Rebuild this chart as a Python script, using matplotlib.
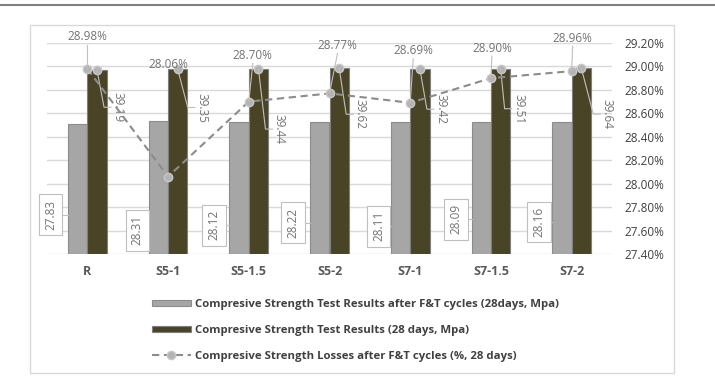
import numpy as np
import matplotlib.pyplot as plt
from matplotlib.patches import Rectangle, Patch
from matplotlib.lines import Line2D
from matplotlib.transforms import Affine2D, ScaledTranslation

plt.rcParams['font.family'] = ['Open Sans', 'DejaVu Sans']

# dados
categorias = ['R', 'S5-1', 'S5-1.5', 'S5-2', 'S7-1', 'S7-1.5', 'S7-2']
resist_apos_ft = [27.83, 28.31, 28.12, 28.22, 28.11, 28.09, 28.16]
resist_28d = [39.19, 39.35, 39.44, 39.62, 39.42, 39.51, 39.64]
perdas_pct = [28.98, 28.06, 28.70, 28.77, 28.69, 28.90, 28.96]
ticks_direita = [27.40, 27.60, 27.80, 28.00, 28.20, 28.40, 28.60, 28.80, 29.00, 29.20]

nomes_legenda = ['Compresive Strength Test Results after F&T cycles (28days, Mpa)',
                 'Compresive Strength Test Results (28 days, Mpa)',
                 'Compresive Strength Losses after F&T cycles (%, 28 days)']

# deslocamentos dos rotulos (pixels) - so estilo
desl_cinza = [(-27, -91), (-21, -109), (-25, -103), (-27, -101), (-22, -104), (-25, -97), (-23, -100)]
desl_escuro = [(21, -37), (24, -38), (21, -60), (21, -46), (21, -40), (18, -40), (26, -46)]
desl_pct = [(0, 32), (0, 112), (4, 46), (8, 48), (3, 52), (1, 30), (1, 33)]

cor_cinza = '#a6a6a6'
cor_escura = '#4a4427'
cor_rotulo = '#737373'

fig = plt.figure(figsize=(7.15, 3.81), dpi=100)
ax = fig.add_axes([47/715, 1 - 254/381, 565/715, 211/381])
ax2 = ax.twinx()

x = np.arange(len(categorias))
larg = 0.24

ax.set_xlim(-0.5, len(categorias) - 0.5)
ax.set_ylim(0, 45)
ax.set_yticks(np.arange(0, 46, 5))
ax.yaxis.grid(True, color='#d9d9d9', lw=1)
ax.set_axisbelow(True)
ax.tick_params(axis='y', left=False, labelleft=False)
ax.tick_params(axis='x', length=0, pad=8)
ax.set_xticks(x)
ax.set_xticklabels(categorias, fontsize=9, fontweight='bold', color='#595959')
for s in ax.spines.values():
    s.set_visible(False)

ax2.set_ylim(27.4, 29.2)
ax2.set_yticks(ticks_direita)
ax2.set_yticklabels([f'{t:.2f}%' for t in ticks_direita], fontsize=8.5, color='#404040')
ax2.tick_params(axis='y', length=0, pad=9)
for s in ax2.spines.values():
    s.set_visible(False)

ax.bar(x - larg/2, resist_apos_ft, larg, color=cor_cinza, edgecolor='#8c8c8c', lw=0.8, zorder=2)
ax.bar(x + larg/2, resist_28d, larg, color=cor_escura, edgecolor='#7f7f7f', lw=0.8, zorder=2)
ax.plot(x + larg/2, resist_28d, 'o', ms=6, mfc='#b3b3b3', mec='#c8c8c8', zorder=4)

ax2.plot(x, perdas_pct, ls=(0, (3.5, 2.2)), color='#8c8c8c', lw=1.5, marker='o', ms=6,
         mfc='#b3b3b3', mec='#c8c8c8', zorder=3)


def trans_px(eixo, xd, yd):
    # pontos em pixels relativos a um ponto de dados
    return Affine2D().scale(1/100) + fig.dpi_scale_trans + ScaledTranslation(xd, yd, eixo.transData)


meia_barra = (ax.transData.transform((larg/2, 0)) - ax.transData.transform((0, 0)))[0]

for i in range(len(categorias)):
    # barras cinza
    dx, dy = desl_cinza[i]
    xc = x[i] - larg/2
    ax.annotate(f'{resist_apos_ft[i]:.2f}', (xc, resist_apos_ft[i]), xytext=(dx, dy),
                textcoords='offset pixels', ha='center', va='center', rotation=90,
                fontsize=8.5, color=cor_rotulo, zorder=6,
                bbox=dict(boxstyle='square,pad=0.45', fc='white', ec='#bfbfbf', lw=0.8))
    ax.add_line(Line2D([dx + 11, -meia_barra], [dy, dy], color='#bfbfbf', lw=0.8,
                       transform=trans_px(ax, xc, resist_apos_ft[i]), zorder=5))
    # barras escuras
    dx, dy = desl_escuro[i]
    xe = x[i] + larg/2
    ax.annotate(f'{resist_28d[i]:.2f}', (xe, resist_28d[i]), xytext=(dx, dy),
                textcoords='offset pixels', ha='center', va='center', rotation=270,
                fontsize=8.5, color=cor_rotulo, zorder=6)
    ax.add_line(Line2D([0, dx - 14, dx - 7], [0, dy, dy], color='#bfbfbf', lw=0.8,
                       transform=trans_px(ax, xe, resist_28d[i]), zorder=5))
    # perdas
    dx, dy = desl_pct[i]
    ax2.annotate(f'{perdas_pct[i]:.2f}%', (x[i], perdas_pct[i]), xytext=(dx, dy),
                 textcoords='offset pixels', ha='center', va='center',
                 fontsize=8.5, color=cor_rotulo, zorder=6)
    if dy < 100:
        ax2.add_line(Line2D([dx, 0], [dy - 8, 0], color='#bfbfbf', lw=0.8,
                            transform=trans_px(ax2, x[i], perdas_pct[i]), zorder=5))

handles = [Patch(fc=cor_cinza, ec='#8c8c8c', lw=0.8),
           Patch(fc=cor_escura, ec='#7f7f7f', lw=0.8),
           Line2D([], [], ls=(0, (3.5, 2.2)), color='#8c8c8c', lw=1.5, marker='o', ms=6,
                  mfc='#b3b3b3', mec='#c8c8c8')]
fig.legend(handles, nomes_legenda, loc='upper left', bbox_to_anchor=(152/715, 1 - 299/381),
           frameon=False, prop={'size': 8.2, 'weight': 'bold'}, labelcolor='#404040',
           handlelength=3.4, handleheight=0.45, handletextpad=0.35, labelspacing=1.3,
           borderpad=0, borderaxespad=0)

fig.add_artist(Rectangle((30/715, 1 - 373/381), 644/715, 348/381, transform=fig.transFigure,
                         fill=False, ec='#d9d9d9', lw=1))
fig.add_artist(Line2D([0, 1], [1 - 5/381, 1 - 5/381], transform=fig.transFigure,
                      color='#808080', lw=1.5))

fig.savefig('out.png', dpi=100)
